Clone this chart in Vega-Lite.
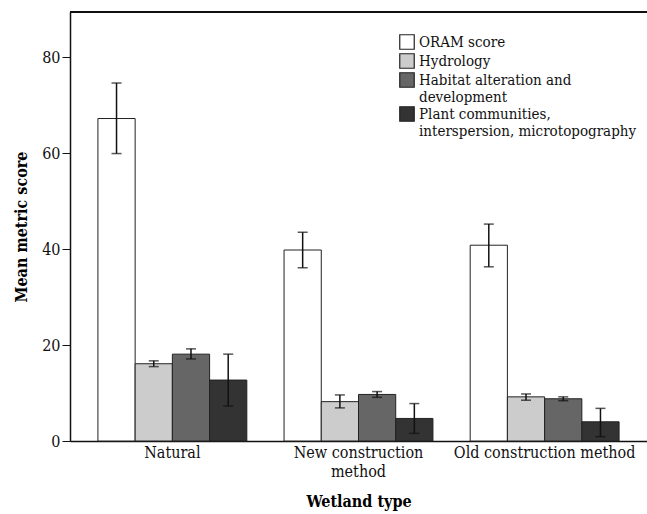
{
  "$schema": "https://vega.github.io/schema/vega-lite/v6.json",
  "autosize": {"type": "none"},
  "padding": {"left": 70, "top": 12, "right": 0, "bottom": 73},
  "width": 577,
  "height": 429,
  "background": "white",
  "config": {
    "font": "DejaVu Serif Condensed, DejaVu Serif",
    "view": {"stroke": null},
    "legend": {"labelFont": "DejaVu Serif Condensed, DejaVu Serif"},
    "axis": {"grid": false, "domainColor": "#111", "domainWidth": 1.5, "tickColor": "#111", "labelColor": "#111", "titleColor": "#000", "labelFont": "DejaVu Serif Condensed, DejaVu Serif", "titleFont": "DejaVu Serif Condensed, DejaVu Serif"}
  },
  "data": {
    "values": [
      {"type": "Natural", "metric": "ORAM score", "mean": 67.2, "lo": 59.9, "hi": 74.6},
      {"type": "Natural", "metric": "Hydrology", "mean": 16.1, "lo": 15.5, "hi": 16.7},
      {"type": "Natural", "metric": "Habitat alteration and development", "mean": 18.1, "lo": 17.1, "hi": 19.2},
      {"type": "Natural", "metric": "Plant communities, interspersion, microtopography", "mean": 12.7, "lo": 7.3, "hi": 18.1},
      {"type": "New construction method", "metric": "ORAM score", "mean": 39.8, "lo": 36.1, "hi": 43.5},
      {"type": "New construction method", "metric": "Hydrology", "mean": 8.2, "lo": 6.9, "hi": 9.6},
      {"type": "New construction method", "metric": "Habitat alteration and development", "mean": 9.7, "lo": 9.1, "hi": 10.3},
      {"type": "New construction method", "metric": "Plant communities, interspersion, microtopography", "mean": 4.7, "lo": 1.6, "hi": 7.8},
      {"type": "Old construction method", "metric": "ORAM score", "mean": 40.8, "lo": 36.3, "hi": 45.2},
      {"type": "Old construction method", "metric": "Hydrology", "mean": 9.2, "lo": 8.5, "hi": 9.8},
      {"type": "Old construction method", "metric": "Habitat alteration and development", "mean": 8.8, "lo": 8.4, "hi": 9.2},
      {"type": "Old construction method", "metric": "Plant communities, interspersion, microtopography", "mean": 4.0, "lo": 0.9, "hi": 6.8}
    ]
  },
  "layer": [
    {
      "mark": {"type": "bar", "stroke": "#222", "strokeWidth": 1},
      "encoding": {
        "x": {
          "field": "type", "type": "nominal", "sort": null,
          "scale": {"paddingInner": 0.2, "paddingOuter": 0.15},
          "axis": {
            "title": "Wetland type", "titleFontSize": 16, "titleFontWeight": "bold", "titlePadding": 14,
            "labelAngle": 0, "labelFontSize": 16, "ticks": false, "labelPadding": 3, "labelLineHeight": 19, "labelLimit": 0,
            "labelExpr": "datum.label == 'New construction method' ? ['New construction', 'method'] : datum.label"
          }
        },
        "xOffset": {
          "field": "metric", "type": "nominal",
          "scale": {"domain": ["ORAM score", "Hydrology", "Habitat alteration and development", "Plant communities, interspersion, microtopography"], "paddingInner": 0, "paddingOuter": 0}
        },
        "y": {
          "field": "mean", "type": "quantitative",
          "scale": {"domain": [0, 89.4], "nice": false},
          "axis": {"title": "Mean metric score", "titleFontSize": 16, "titleFontWeight": "bold", "titlePadding": 12, "values": [0, 20, 40, 60, 80], "labelFontSize": 16, "tickSize": 8, "labelPadding": 2}
        },
        "fill": {
          "field": "metric", "type": "nominal",
          "scale": {"domain": ["ORAM score", "Hydrology", "Habitat alteration and development", "Plant communities, interspersion, microtopography"], "range": ["#ffffff", "#cccccc", "#666666", "#333333"]},
          "legend": {
            "title": null, "orient": "none", "legendX": 329, "legendY": 22,
            "symbolType": "square", "symbolSize": 210, "symbolStrokeColor": "#222", "symbolStrokeWidth": 1.2,
            "labelFontSize": 15, "labelColor": "#111", "labelLimit": 300, "labelOffset": 4, "rowPadding": -1, "labelLineHeight": 16,
            "labelExpr": "datum.label == 'Habitat alteration and development' ? ['Habitat alteration and', 'development'] : datum.label == 'Plant communities, interspersion, microtopography' ? ['Plant communities,', 'interspersion, microtopography'] : datum.label"
          }
        }
      }
    },
    {
      "mark": {"type": "rule", "color": "#111", "strokeWidth": 1.5},
      "encoding": {
        "x": {"field": "type", "type": "nominal", "sort": null},
        "xOffset": {"field": "metric", "type": "nominal", "scale": {"domain": ["ORAM score", "Hydrology", "Habitat alteration and development", "Plant communities, interspersion, microtopography"]}},
        "y": {"field": "lo", "type": "quantitative"},
        "y2": {"field": "hi"}
      }
    },
    {
      "mark": {"type": "tick", "color": "#111", "size": 10, "thickness": 1.5, "orient": "horizontal"},
      "encoding": {
        "x": {"field": "type", "type": "nominal", "sort": null},
        "xOffset": {"field": "metric", "type": "nominal", "scale": {"domain": ["ORAM score", "Hydrology", "Habitat alteration and development", "Plant communities, interspersion, microtopography"]}},
        "y": {"field": "lo", "type": "quantitative"}
      }
    },
    {
      "mark": {"type": "tick", "color": "#111", "size": 10, "thickness": 1.5, "orient": "horizontal"},
      "encoding": {
        "x": {"field": "type", "type": "nominal", "sort": null},
        "xOffset": {"field": "metric", "type": "nominal", "scale": {"domain": ["ORAM score", "Hydrology", "Habitat alteration and development", "Plant communities, interspersion, microtopography"]}},
        "y": {"field": "hi", "type": "quantitative"}
      }
    },
    {
      "mark": {"type": "rule", "color": "#111", "strokeWidth": 1.5},
      "encoding": {"y": {"datum": 89.4, "type": "quantitative"}}
    }
  ]
}
